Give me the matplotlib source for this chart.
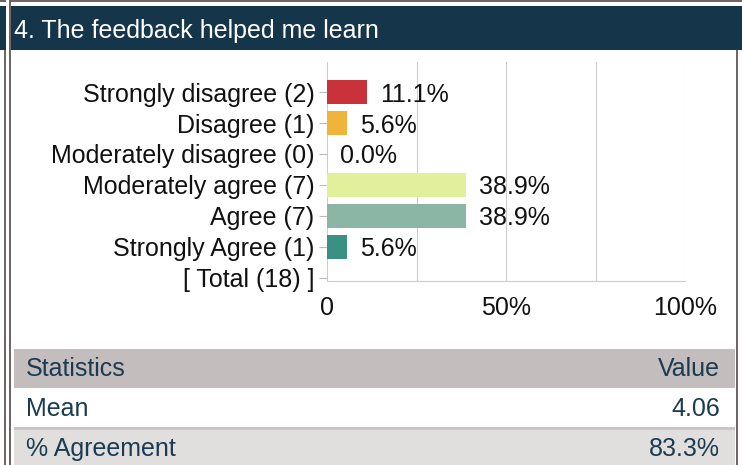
import matplotlib
matplotlib.use('Agg')
import matplotlib.pyplot as plt
from matplotlib.patches import Rectangle

plt.rcParams['font.family'] = ['Liberation Sans', 'DejaVu Sans']

# Data
title = "4. The feedback helped me learn"
categories = ["Strongly disagree", "Disagree", "Moderately disagree",
              "Moderately agree", "Agree", "Strongly Agree"]
counts = [2, 1, 0, 7, 7, 1]
bar_colors = ["#c9323a", "#f1b43b", "#d9d9d9", "#e2ef9b", "#8bb5a4", "#3a9183"]
x_ticks = [0, 25, 50, 75, 100]
x_ticklabels = ["0", "", "50%", "", "100%"]
stats_header = ["Statistics", "Value"]
stats_labels = ["Mean", "% Agreement"]
stats_values = ["4.06", "83.3%"]

total = sum(counts)
percents = [c / total * 100 for c in counts]
ylabels = [f"{c} ({n})" for c, n in zip(categories, counts)] + [f"[ Total ({total}) ]"]

W, H = 742, 465
fig = plt.figure(figsize=(W / 100, H / 100), dpi=100)

# background canvas in pixel coordinates
bg = fig.add_axes([0, 0, 1, 1])
bg.set_xlim(0, W)
bg.set_ylim(H, 0)
bg.axis('off')

frame = "#6f6667"
dark = "#15364a"
txt = "#1b3b50"
FS = 18

def box(x0, y0, x1, y1, color):
    bg.add_patch(Rectangle((x0, y0), x1 - x0, y1 - y0, color=color, lw=0))

# outer frame
box(0, 0, 6, 2, frame)
box(9, 0, W, 2, frame)
box(0, 6, 6, 50, dark)
box(11, 6, W, 50, dark)
box(9, 0, 11, H, frame)
box(4, 50, 6, H, frame)
box(736, 50, 738, H, frame)

bg.text(14, 31, title, color="white", fontsize=FS, va='center', ha='left')

# statistics table
box(14, 349, 735, 388, "#c4bdbd")
box(14, 427, 735, 430, "#c9c5c5")
box(14, 430, 735, H, "#e0dfdd")
bg.text(26, 369, stats_header[0], color=txt, fontsize=FS, va='center')
bg.text(720, 369, stats_header[1], color=txt, fontsize=FS, va='center', ha='right')
for i, (lab, val) in enumerate(zip(stats_labels, stats_values)):
    y = 409 + 40 * i
    bg.text(26, y, lab, color=txt, fontsize=FS, va='center')
    bg.text(720, y, val, color=txt, fontsize=FS, va='center', ha='right')

# bar chart
ax = fig.add_axes([327 / W, 1 - 281 / H, (685 - 327) / W, (281 - 62) / H])
ypos = list(range(len(categories)))
ax.barh(ypos, percents, height=0.75, color=bar_colors[:len(categories)], zorder=3)
for y, p in zip(ypos, percents):
    ax.annotate(f"{p:.1f}%", xy=(p, y), xytext=(9.4, 0), textcoords='offset points',
                va='center_baseline', ha='left', fontsize=FS, color='#111111', zorder=4)

ax.set_xlim(0, 100)
ax.set_ylim(6.1, -0.97)
ax.set_yticks(range(len(ylabels)))
ax.set_yticklabels(ylabels, fontsize=FS, color='#111111', va='center_baseline')
ax.set_xticks(x_ticks)
ax.set_xticklabels(x_ticklabels, fontsize=FS, color='#111111')
ax.tick_params(axis='x', length=0, pad=11)
ax.tick_params(axis='y', length=6, width=0.8, color='#bbbbbb', pad=3)
ax.grid(axis='x', color='#cccccc', linewidth=0.8, zorder=0)
ax.grid(axis='y', visible=False)
for side in ['top', 'right', 'left']:
    ax.spines[side].set_visible(False)
ax.spines['bottom'].set_color('#cccccc')
ax.spines['bottom'].set_linewidth(0.8)
ax.patch.set_alpha(0)

fig.savefig("out.png", dpi=100)
